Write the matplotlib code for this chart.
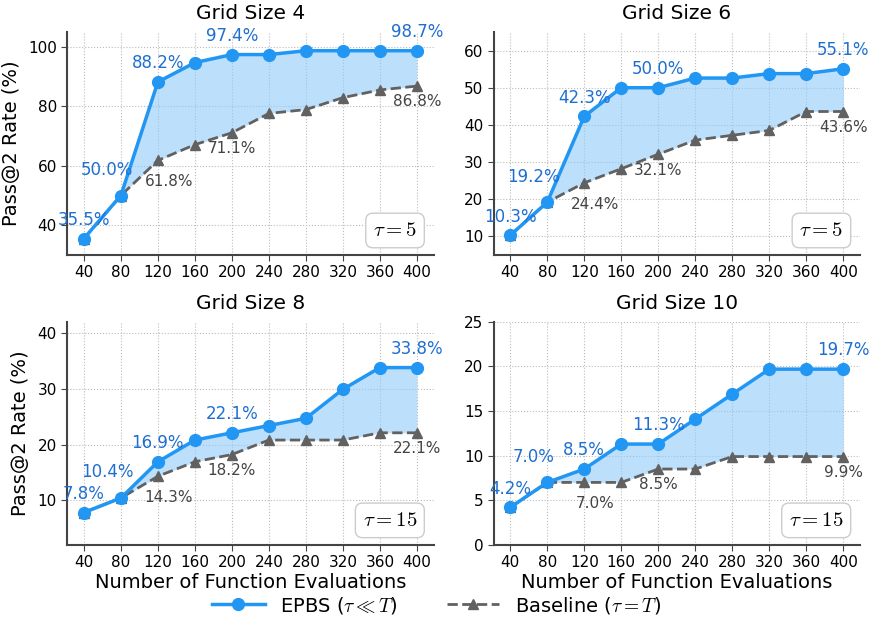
import numpy as np
import matplotlib
matplotlib.use("Agg")
import matplotlib.pyplot as plt
from matplotlib.ticker import MultipleLocator

# ---------------------------------------------------------
# DATA
# ---------------------------------------------------------
nfe = [40, 80, 120, 160, 200, 240, 280, 320, 360, 400]

grid_titles = ["Grid Size 4", "Grid Size 6", "Grid Size 8", "Grid Size 10"]
tau_labels = [r"$\tau = 5$", r"$\tau = 5$", r"$\tau = 15$", r"$\tau = 15$"]

epbs_g4 = [35.5, 50.0, 88.2, 94.7, 97.4, 97.4, 98.7, 98.7, 98.7, 98.7]
base_g4 = [35.5, 50.0, 61.8, 67.1, 71.1, 77.6, 78.9, 82.9, 85.5, 86.8]

epbs_g6 = [10.3, 19.2, 42.3, 50.0, 50.0, 52.6, 52.6, 53.8, 53.8, 55.1]
base_g6 = [10.3, 19.2, 24.4, 28.2, 32.1, 35.9, 37.2, 38.5, 43.6, 43.6]

epbs_g8 = [7.8, 10.4, 16.9, 20.8, 22.1, 23.4, 24.7, 29.9, 33.8, 33.8]
base_g8 = [7.8, 10.4, 14.3, 16.9, 18.2, 20.8, 20.8, 20.8, 22.1, 22.1]

epbs_g10 = [4.2, 7.0, 8.5, 11.3, 11.3, 14.1, 16.9, 19.7, 19.7, 19.7]
base_g10 = [4.2, 7.0, 7.0, 7.0, 8.5, 8.5, 9.9, 9.9, 9.9, 9.9]

# which points get a value label
epbs_label_idx = [0, 1, 2, 4, 9]
base_label_idx = [2, 4, 9]

# ---------------------------------------------------------
# STYLE
# ---------------------------------------------------------
plt.rcParams['font.family'] = ['DejaVu Sans']
plt.rcParams['mathtext.fontset'] = 'cm'

BLUE = '#2196F3'
BLUE_TXT = '#1E6FD0'
FILL = '#90CAF9'
GRAY = '#616161'
GRAY_TXT = '#444444'

ylims = [(30, 105), (5, 65), (2, 42), (0, 25)]
ysteps = [20, 10, 10, 5]

panels = [
    (epbs_g4, base_g4),
    (epbs_g6, base_g6),
    (epbs_g8, base_g8),
    (epbs_g10, base_g10),
]

fig, axes = plt.subplots(2, 2, figsize=(8.73, 6.27), dpi=100)
fig.subplots_adjust(left=0.077, right=0.985, top=0.949, bottom=0.131,
                    wspace=0.164, hspace=0.30)

for i, ax in enumerate(axes.flat):
    epbs, base = panels[i]

    ax.fill_between(nfe, base, epbs, color=FILL, alpha=0.6, linewidth=0, zorder=1)
    ax.plot(nfe, base, '--', color=GRAY, linewidth=2, marker='^', markersize=7,
            label=r'Baseline ($\tau = T$)', zorder=3)
    ax.plot(nfe, epbs, '-', color=BLUE, linewidth=2.5, marker='o', markersize=8.5,
            label=r'EPBS ($\tau \ll T$)', zorder=4)

    for j in epbs_label_idx:
        dx = -10 if j == 1 else 0
        dy = 12 if j == 1 else 7
        ax.annotate(f"{epbs[j]:.1f}%", (nfe[j], epbs[j]), xytext=(dx, dy),
                    textcoords='offset points', ha='center', va='bottom',
                    fontsize=12, color=BLUE_TXT, zorder=5)
    for j in base_label_idx:
        dx = 8 if j == 2 else 0
        dy = -10 if j == 2 else -6
        ax.annotate(f"{base[j]:.1f}%", (nfe[j], base[j]), xytext=(dx, dy),
                    textcoords='offset points', ha='center', va='top',
                    fontsize=11, color=GRAY_TXT, zorder=5)

    ax.text(0.955, 0.065, tau_labels[i], transform=ax.transAxes,
            ha='right', va='bottom', fontsize=15,
            bbox=dict(boxstyle='round,pad=0.35', facecolor='white',
                      edgecolor='#cccccc', linewidth=1))

    ax.set_title(grid_titles[i], fontsize=14.5, pad=9)
    ax.set_ylim(*ylims[i])
    ax.yaxis.set_major_locator(MultipleLocator(ysteps[i]))
    ax.set_xticks(nfe)
    ax.tick_params(labelsize=11, length=4, color='#444444')
    ax.grid(True, linestyle=':', color='#bbbbbb', linewidth=0.8)
    ax.set_axisbelow(True)
    for side in ['top', 'right']:
        ax.spines[side].set_visible(False)
    for side in ['left', 'bottom']:
        ax.spines[side].set_linewidth(1.5)
        ax.spines[side].set_color('#444444')

    if i % 2 == 0:
        ax.set_ylabel('Pass@2 Rate (%)', fontsize=14, labelpad=5)
    if i >= 2:
        ax.set_xlabel('Number of Function Evaluations', fontsize=14, labelpad=2)

handles, labels = axes[0, 0].get_legend_handles_labels()
fig.legend(handles[::-1], labels[::-1], loc='lower center', ncol=2,
           frameon=False, fontsize=14, handlelength=2.7, columnspacing=2.5,
           bbox_to_anchor=(0.5, -0.01))

fig.savefig('out.png', dpi=100)
